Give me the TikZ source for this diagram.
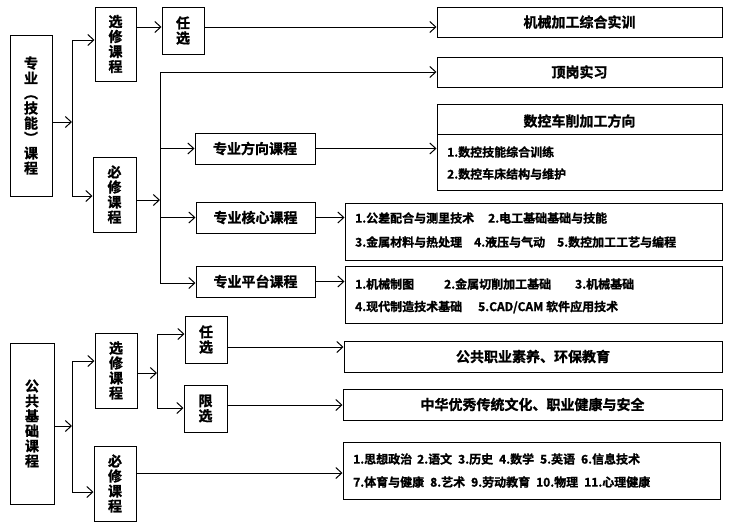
\documentclass[tikz,border=0pt]{standalone}
\usepackage{fontspec}
\setmainfont{Noto Sans CJK SC}[BoldFont={Noto Sans CJK SC Bold},BoldFeatures={FakeBold=1.2}]
\usetikzlibrary{arrows.meta}
\begin{document}
\begin{tikzpicture}[x=1pt,y=-1pt,
  box/.style={draw,line width=1pt,inner sep=0pt,font=\bfseries\fontsize{14}{17}\selectfont,align=center},
  vbox/.style={box,font=\bfseries\fontsize{14}{15}\selectfont},
  item/.style={anchor=west,inner sep=0pt,font=\bfseries\fontsize{12}{14}\selectfont},
  ar/.style={line width=1pt,-{Straight Barb[length=6pt,width=11pt,line width=1pt]}},
  ln/.style={line width=1pt}]
\useasboundingbox (0,0) rectangle (733,530);
% nodes
\node[vbox,minimum width=42,minimum height=161] (zy) at (31,115.5) {专\\业\\︵\\技\\能\\︶\\课\\程};
\node[vbox,minimum width=41,minimum height=74] (xx1) at (115.5,44) {选\\修\\课\\程};
\node[vbox,minimum width=43,minimum height=75] (bx1) at (114.5,194.5) {必\\修\\课\\程};
\node[vbox,minimum width=42,minimum height=47] (rx1) at (183,30.5) {任\\选};
\node[box,minimum width=285,minimum height=30] (jx) at (579.5,22) {机械加工综合实训};
\node[box,minimum width=285,minimum height=30] (dg) at (579.5,72) {顶岗实习};
\node[box,minimum width=120,minimum height=31] (fx) at (255,148.5) {专业方向课程};
\node[box,minimum width=285,minimum height=86] (sk) at (579.5,147) {};
\node[box,minimum width=119,minimum height=31] (hx) at (255.5,217.5) {专业核心课程};
\node[box,minimum width=377,minimum height=57] (hl) at (533.5,231.5) {};
\node[box,minimum width=119,minimum height=31] (pt) at (255.5,281.5) {专业平台课程};
\node[box,minimum width=377,minimum height=57] (pl) at (533.5,294.5) {};
\node[vbox,minimum width=44,minimum height=161] (gg) at (32,423.5) {公\\共\\基\\础\\课\\程};
\node[vbox,minimum width=42,minimum height=75] (xx2) at (116,370.5) {选\\修\\课\\程};
\node[vbox,minimum width=42,minimum height=75] (bx2) at (115,483.5) {必\\修\\课\\程};
\node[vbox,minimum width=42,minimum height=47] (rx2) at (206,339.5) {任\\选};
\node[vbox,minimum width=43,minimum height=47] (lx2) at (205.5,408.5) {限\\选};
\node[box,minimum width=378,minimum height=31] (gz) at (533,356.5) {公共职业素养、环保教育};
\node[box,minimum width=379,minimum height=31] (zh) at (532.5,404.5) {中华优秀传统文化、职业健康与安全};
\node[box,minimum width=377,minimum height=57] (gl) at (531.5,470.5) {};
% contents
\node[inner sep=0pt,font=\bfseries\fontsize{14}{17}\selectfont] (skh) at (579.5,121) {数控车削加工方向};
\draw[ln] (437,134) -- (722,134);
\node[item] (s1) at (447,152) {1.数控技能综合训练};
\node[item] (s2) at (447,174) {2.数控车床结构与维护};
\node[item] (h1) at (355,218) {1.公差配合与测里技术\hspace{14pt}2.电工基础基础与技能};
\node[item] (h2) at (355,242) {3.金属材料与热处理\hspace{12pt}4.液压与气动\hspace{12pt}5.数控加工工艺与编程};
\node[item] (p1) at (355,284) {1.机械制图\hspace{30pt}2.金属切削加工基础\hspace{24pt}3.机械基础};
\node[item] (p2) at (355,307) {4.现代制造技术基础\hspace{16pt}5.CAD/CAM 软件应用技术};
\node[item] (g1) at (353,459) {1.思想政治\hspace{5pt}2.语文\hspace{6pt}3.历史\hspace{6pt}4.数学\hspace{6pt}5.英语\hspace{6pt}6.信息技术};
\node[item] (g2) at (353,482) {7.体育与健康\hspace{6pt}8.艺术\hspace{6pt}9.劳动教育\hspace{6pt}10.物理\hspace{6pt}11.心理健康};
% connectors top
\coordinate (j1) at (72,122);
\coordinate (j1t) at (72,40);
\coordinate (j1b) at (72,196);
\draw[ar] (zy.east|-j1) -- (j1);
\draw[ln] (j1t) -- (j1b);
\draw[ar] (j1t) -- (xx1.west|-j1t);
\draw[ar] (j1b) -- (bx1.west|-j1b);
\draw[ar] (xx1.east|-0,27) -- (rx1.west|-0,27);
\draw[ar] (rx1.east|-0,27) -- (jx.west|-0,27);
\coordinate (j2t) at (160,72);
\coordinate (j2b) at (160,283);
\coordinate (j2) at (160,200);
\draw[ln] (j2t) -- (j2b);
\draw[ar] (bx1.east|-j2) -- (j2);
\draw[ar] (j2t) -- (dg.west|-j2t);
\draw[ar] (j2|-fx) -- (fx.west);
\draw[ar] (j2|-hx) -- (hx.west);
\draw[ar] (j2b) -- (pt.west|-j2b);
\draw[ar] (fx.east) -- (sk.west|-fx.east);
\draw[ar] (hx.east) -- (hl.west|-hx.east);
\draw[ar] (pt.east) -- (pl.west|-pt.east);
% connectors bottom
\coordinate (k1) at (72,426);
\coordinate (k1t) at (72,361);
\coordinate (k1b) at (72,492);
\draw[ar] (gg.east|-k1) -- (k1);
\draw[ln] (k1t) -- (k1b);
\draw[ar] (k1t) -- (xx2.west|-k1t);
\draw[ar] (k1b) -- (bx2.west|-k1b);
\coordinate (k2) at (157,373);
\coordinate (k2t) at (157,334);
\coordinate (k2b) at (157,408);
\draw[ar] (xx2.east|-k2) -- (k2);
\draw[ln] (k2t) -- (k2b);
\draw[ar] (k2t) -- (rx2.west|-k2t);
\draw[ar] (k2b) -- (lx2.west|-k2b);
\draw[ar] (rx2.east|-0,347) -- (gz.west|-0,347);
\draw[ar] (lx2.east|-0,405) -- (zh.west|-0,405);
\draw[ar] (bx2.east|-0,473) -- (gl.west|-0,473);
\end{tikzpicture}
\end{document}
